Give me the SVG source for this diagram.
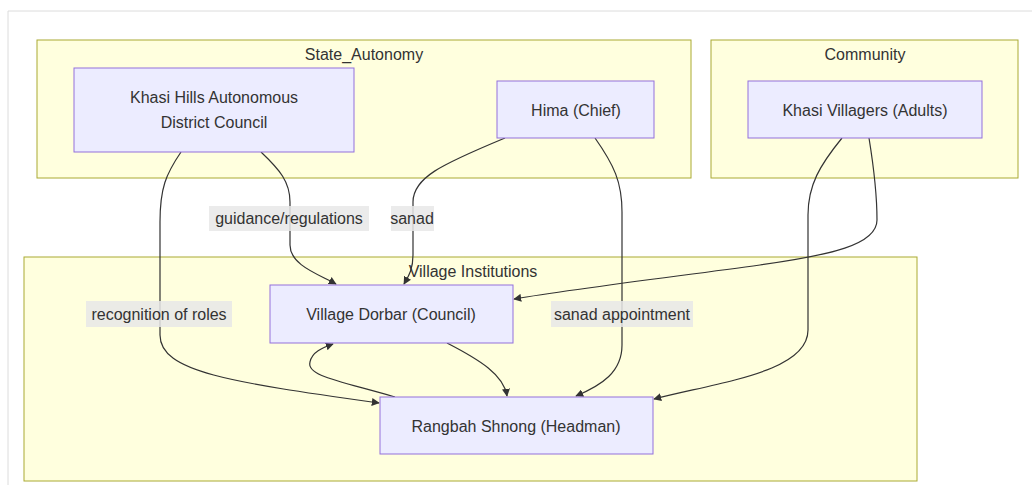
<svg xmlns="http://www.w3.org/2000/svg" width="1032" height="485" viewBox="0 0 1032 485">
<style>
.frame{fill:none;stroke:#dcdcdc;stroke-width:1}
.cluster rect{fill:#ffffde;stroke:#aaaa33;stroke-width:1}
.node rect{fill:#ececff;stroke:#9370db;stroke-width:1}
text{font-family:"Liberation Sans",Arial,sans-serif;font-size:16px;fill:#333;text-anchor:middle;dominant-baseline:central}
.edge{fill:none;stroke:#333;stroke-width:1.2}
.lbl rect{fill:#e8e8e8;opacity:0.85}
</style>
<defs>
<marker id="ah" viewBox="0 0 10 10" refX="9" refY="5" markerWidth="8" markerHeight="8" markerUnits="userSpaceOnUse" orient="auto">
<path d="M0,0 L10,5 L0,10 z" fill="#333"/>
</marker>
</defs>
<rect width="1032" height="485" fill="#fff"/>
<path class="frame" d="M8,485 L8,11 L1032,11"/>
<g id="State_Autonomy" class="cluster">
<rect x="37" y="40" width="654" height="138"/>
<text x="364" y="54">State_Autonomy</text>
</g>
<g id="Community" class="cluster">
<rect x="711" y="40" width="307" height="138"/>
<text x="865" y="54">Community</text>
</g>
<g id="Village_Institutions" class="cluster">
<rect x="24" y="257" width="893" height="224"/>
<text x="473" y="271">Village Institutions</text>
</g>
<g id="edges">
<path class="edge" marker-end="url(#ah)" d="M181,152 C166,174 160,188 160,222 L160,335 C160,372 230,382 379,403"/>
<path class="edge" marker-end="url(#ah)" d="M261,152 C280,170 290,182 290,202 L290,245 C290,265 318,274 336,284"/>
<path class="edge" marker-end="url(#ah)" d="M505,138 C440,165 413,178 413,202 L413,255 C413,270 408,277 404,284"/>
<path class="edge" marker-end="url(#ah)" d="M595,138 C614,165 622,182 622,212 L622,345 C622,372 602,385 576,396"/>
<path class="edge" marker-end="url(#ah)" d="M869,138 C875,175 877,195 877,220 C877,245 830,255 760,265 C680,276 580,288 514,299"/>
<path class="edge" marker-end="url(#ah)" d="M842,138 C820,165 808,185 808,215 L808,330 C808,372 720,382 654,399"/>
<path class="edge" marker-end="url(#ah)" d="M447,343 C480,360 504,375 507,396"/>
<path class="edge" marker-end="url(#ah)" d="M395,397 C340,381 306,376 310,362 C312,352 322,348 333,344"/>
</g>
<g id="edge-labels">
<g class="lbl"><rect x="209" y="206" width="160" height="25"/><text x="289" y="218">guidance/regulations</text></g>
<g class="lbl"><rect x="391" y="206" width="43" height="25"/><text x="412" y="218">sanad</text></g>
<g class="lbl"><rect x="86" y="301" width="146" height="26"/><text x="159" y="314">recognition of roles</text></g>
<g class="lbl"><rect x="551" y="301" width="142" height="26"/><text x="622" y="314">sanad appointment</text></g>
</g>
<g id="KHADC" class="node">
<rect x="74" y="68" width="280" height="84"/>
<text x="214" y="97">Khasi Hills Autonomous</text>
<text x="214" y="122">District Council</text>
</g>
<g id="Hima" class="node">
<rect x="497" y="81" width="157" height="57"/>
<text x="576" y="110">Hima (Chief)</text>
</g>
<g id="Villagers" class="node">
<rect x="748" y="81" width="234" height="57"/>
<text x="865" y="110">Khasi Villagers (Adults)</text>
</g>
<g id="Dorbar" class="node">
<rect x="270" y="285" width="243" height="58"/>
<text x="391" y="314">Village Dorbar (Council)</text>
</g>
<g id="Rangbah" class="node">
<rect x="380" y="397" width="273" height="57"/>
<text x="516" y="426">Rangbah Shnong (Headman)</text>
</g>
</svg>
